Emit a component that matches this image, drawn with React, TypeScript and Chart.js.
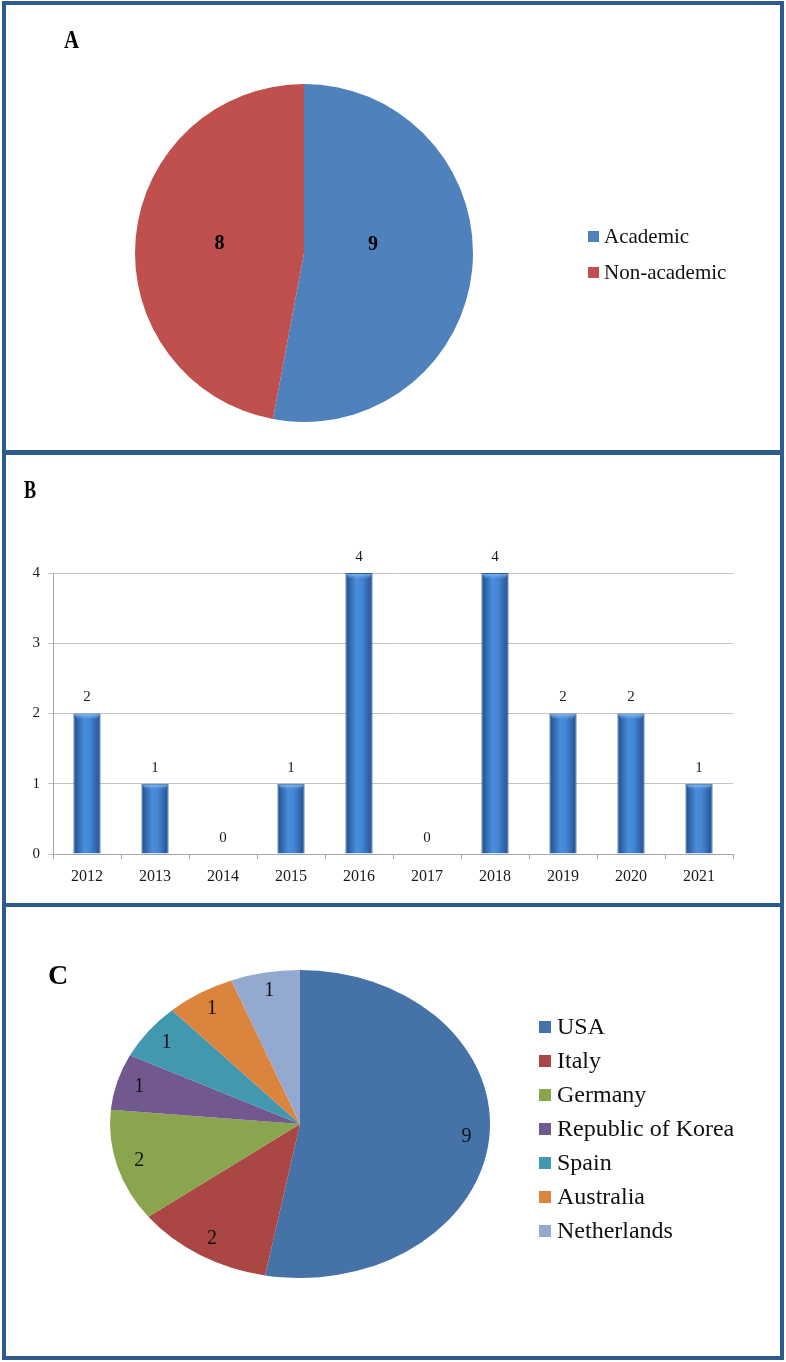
import React, { useEffect, useRef } from "react";
import { Chart, registerables } from "chart.js";

Chart.register(...registerables);

const FONT = '"Liberation Serif", "Times New Roman", serif';

// Panel A – affiliation
const affiliationLabels = ["Academic", "Non-academic"];
const affiliationValues = [9, 8];
const affiliationColors = ["#4F81BD", "#C0504D"];

// Panel B – publications per year
const years = ["2012", "2013", "2014", "2015", "2016", "2017", "2018", "2019", "2020", "2021"];
const yearCounts = [2, 1, 0, 1, 4, 0, 4, 2, 2, 1];
const yAxisMin = 0;
const yAxisMax = 4;
const yAxisStep = 1;

// Panel C – countries
const countries = ["USA", "Italy", "Germany", "Republic of Korea", "Spain", "Australia", "Netherlands"];
const countryCounts = [9, 2, 2, 1, 1, 1, 1];
const countryColors = ["#4572A7", "#AA4643", "#89A54E", "#71588F", "#4198AF", "#DB843D", "#93A9CF"];

type LegendCfg = { x: number; textX: number; y0: number; dy: number; box: number; font: string };

function legendPlugin(cfg: LegendCfg) {
  return {
    id: "customLegend",
    afterDraw(chart: any) {
      const ctx = chart.ctx;
      const labels = chart.data.labels as string[];
      const colors = chart.data.datasets[0].backgroundColor as string[];
      ctx.save();
      ctx.font = cfg.font;
      ctx.textBaseline = "middle";
      ctx.textAlign = "left";
      labels.forEach((l, i) => {
        const y = cfg.y0 + i * cfg.dy;
        ctx.fillStyle = colors[i];
        ctx.fillRect(cfg.x, Math.round(y - cfg.box / 2), cfg.box, cfg.box);
        ctx.fillStyle = "#111";
        ctx.fillText(l, cfg.textX, y + 1);
      });
      ctx.restore();
    },
  };
}

// Labels at the centre of each slice's bounding box (panel A)
const pieBoxLabels = {
  id: "pieBoxLabels",
  afterDatasetsDraw(chart: any) {
    const ctx = chart.ctx;
    const meta = chart.getDatasetMeta(0);
    const data = chart.data.datasets[0].data as number[];
    ctx.save();
    ctx.font = `bold 20px ${FONT}`;
    ctx.fillStyle = "#000";
    ctx.textAlign = "center";
    ctx.textBaseline = "middle";
    meta.data.forEach((arc: any, i: number) => {
      const { x, y, startAngle, endAngle, outerRadius } = arc.getProps(
        ["x", "y", "startAngle", "endAngle", "outerRadius"],
        true
      );
      const pts: number[][] = [
        [x, y],
        [x + outerRadius * Math.cos(startAngle), y + outerRadius * Math.sin(startAngle)],
        [x + outerRadius * Math.cos(endAngle), y + outerRadius * Math.sin(endAngle)],
      ];
      for (let k = -4; k <= 8; k++) {
        const a = (k * Math.PI) / 2;
        if (a > startAngle && a < endAngle) pts.push([x + outerRadius * Math.cos(a), y + outerRadius * Math.sin(a)]);
      }
      const xs = pts.map((p) => p[0]);
      const ys = pts.map((p) => p[1]);
      const lx = (Math.min(...xs) + Math.max(...xs)) / 2;
      const ly = (Math.min(...ys) + Math.max(...ys)) / 2 - 8;
      ctx.fillText(String(data[i]), lx, ly);
    });
    ctx.restore();
  },
};

// Panel C: stretch the pie horizontally into an ellipse and label near the rim
const ELLIPSE_SX = 190 / 154;
const ellipsePie = {
  id: "ellipsePie",
  beforeDatasetsDraw(chart: any) {
    const arc = chart.getDatasetMeta(0).data[0];
    const ctx = chart.ctx;
    ctx.save();
    ctx.translate(arc.x, arc.y);
    ctx.scale(ELLIPSE_SX, 1);
    ctx.translate(-arc.x, -arc.y);
  },
  afterDatasetsDraw(chart: any) {
    const ctx = chart.ctx;
    ctx.restore();
    const meta = chart.getDatasetMeta(0);
    const data = chart.data.datasets[0].data as number[];
    ctx.save();
    ctx.font = `20px ${FONT}`;
    ctx.fillStyle = "#111";
    ctx.textAlign = "center";
    ctx.textBaseline = "middle";
    meta.data.forEach((arc: any, i: number) => {
      const { x, y, startAngle, endAngle, outerRadius } = arc.getProps(
        ["x", "y", "startAngle", "endAngle", "outerRadius"],
        true
      );
      const mid = (startAngle + endAngle) / 2;
      const f = 0.88;
      ctx.fillText(
        String(data[i]),
        x + ELLIPSE_SX * f * outerRadius * Math.cos(mid),
        y + f * outerRadius * Math.sin(mid)
      );
    });
    ctx.restore();
  },
};

// Panel B: value labels and top highlight on the bars
const barExtras = {
  id: "barExtras",
  afterDatasetsDraw(chart: any) {
    const ctx = chart.ctx;
    const meta = chart.getDatasetMeta(0);
    const data = chart.data.datasets[0].data as number[];
    ctx.save();
    meta.data.forEach((bar: any, i: number) => {
      const { x, y, base, width } = bar.getProps(["x", "y", "base", "width"], true);
      if (base - y > 6) {
        const g = ctx.createLinearGradient(0, y, 0, y + 6);
        g.addColorStop(0, "rgba(150,200,250,0.95)");
        g.addColorStop(1, "rgba(110,170,235,0)");
        ctx.fillStyle = g;
        ctx.beginPath();
        ctx.moveTo(x - width / 2 + 1, y + 1);
        ctx.lineTo(x + width / 2 - 1, y + 1);
        ctx.lineTo(x + width / 2 - 4, y + 6);
        ctx.lineTo(x - width / 2 + 4, y + 6);
        ctx.closePath();
        ctx.fill();
      }
      ctx.font = `15px ${FONT}`;
      ctx.fillStyle = "#1a1a1a";
      ctx.textAlign = "center";
      ctx.textBaseline = "middle";
      ctx.fillText(String(data[i]), x, y - 16);
    });
    ctx.restore();
  },
};

function barFill(c: any) {
  const chart = c.chart;
  const xs = chart && chart.scales && chart.scales.x;
  if (!xs || c.dataIndex === undefined) return "#3E78C6";
  const cx = xs.getPixelForValue(c.dataIndex);
  if (!Number.isFinite(cx)) return "#3E78C6";
  const half = 14;
  const g = chart.ctx.createLinearGradient(cx - half, 0, cx + half, 0);
  g.addColorStop(0, "#1E4A84");
  g.addColorStop(0.4, "#4A8DDC");
  g.addColorStop(0.6, "#4686D4");
  g.addColorStop(1, "#214F8D");
  return g;
}

function ChartCanvas(props: { left: number; top: number; width: number; height: number; build: () => any }) {
  const ref = useRef<HTMLCanvasElement>(null);
  useEffect(() => {
    const chart = new Chart(ref.current as HTMLCanvasElement, props.build());
    return () => chart.destroy();
  }, []);
  return (
    <canvas
      ref={ref}
      width={props.width}
      height={props.height}
      style={{ position: "absolute", left: props.left, top: props.top, width: props.width, height: props.height }}
    />
  );
}

const buildA = () => ({
  type: "pie",
  data: {
    labels: affiliationLabels,
    datasets: [{ data: affiliationValues, backgroundColor: affiliationColors, borderWidth: 0 }],
  },
  options: {
    animation: false,
    responsive: false,
    layout: { padding: { left: 135, right: 313, top: 84, bottom: 28 } },
    plugins: { legend: { display: false }, tooltip: { enabled: false } },
  },
  plugins: [pieBoxLabels, legendPlugin({ x: 588, textX: 604, y0: 236, dy: 36, box: 11, font: `21px ${FONT}` })],
});

const buildB = () => ({
  type: "bar",
  data: {
    labels: years,
    datasets: [
      {
        data: yearCounts,
        categoryPercentage: 1,
        barPercentage: 0.4,
        borderWidth: 1,
        borderColor: "#2A5A96",
        backgroundColor: barFill,
      },
    ],
  },
  options: {
    animation: false,
    responsive: false,
    layout: { padding: { left: 0, right: 53, top: 118, bottom: 0 } },
    plugins: { legend: { display: false }, tooltip: { enabled: false } },
    scales: {
      x: {
        grid: { display: true, drawOnChartArea: false, drawTicks: true, tickLength: 5, color: "#A6A6A6", offset: true },
        border: { color: "#A6A6A6", width: 1 },
        ticks: { font: { family: FONT, size: 16 }, color: "#1a1a1a", padding: 8, maxRotation: 0 },
        afterFit(s: any) {
          s.height = 49;
        },
      },
      y: {
        min: yAxisMin,
        max: yAxisMax,
        ticks: { stepSize: yAxisStep, font: { family: FONT, size: 15 }, color: "#1a1a1a", padding: 8 },
        grid: { color: "#C4C4C4", tickLength: 5 },
        border: { color: "#A6A6A6", width: 1 },
        afterFit(s: any) {
          s.width = 53;
        },
      },
    },
  },
  plugins: [barExtras],
});

const buildC = () => ({
  type: "pie",
  data: {
    labels: countries,
    datasets: [{ data: countryCounts, backgroundColor: countryColors, borderWidth: 0, clip: false }],
  },
  options: {
    animation: false,
    responsive: false,
    layout: { padding: { left: 146, right: 332, top: 63, bottom: 75 } },
    plugins: { legend: { display: false }, tooltip: { enabled: false } },
  },
  plugins: [ellipsePie, legendPlugin({ x: 539, textX: 557, y0: 120, dy: 34, box: 12, font: `24px ${FONT}` })],
});

const FRAME = "#2F5A8C";

function PanelLabel(props: { text: string; left: number; top: number; size: number; sx: number }) {
  return (
    <div
      style={{
        position: "absolute",
        left: props.left,
        top: props.top,
        fontFamily: FONT,
        fontWeight: "bold",
        fontSize: props.size,
        lineHeight: `${props.size}px`,
        color: "#000",
        transform: `scaleX(${props.sx})`,
        transformOrigin: "left top",
        whiteSpace: "nowrap",
      }}
    >
      {props.text}
    </div>
  );
}

export default function App() {
  return (
    <div
      style={{
        position: "absolute",
        left: 0,
        top: 0,
        width: 786,
        height: 1362,
        background: "#fff",
        overflow: "hidden",
      }}
    >
      <ChartCanvas left={0} top={0} width={786} height={450} build={buildA} />
      <ChartCanvas left={0} top={455} width={786} height={448} build={buildB} />
      <ChartCanvas left={0} top={907} width={786} height={446} build={buildC} />

      <div
        style={{
          position: "absolute",
          left: 2,
          top: 1,
          width: 782,
          height: 1359,
          boxSizing: "border-box",
          border: `4px solid ${FRAME}`,
          pointerEvents: "none",
        }}
      />
      <div style={{ position: "absolute", left: 2, top: 450, width: 782, height: 5, background: FRAME }} />
      <div style={{ position: "absolute", left: 2, top: 903, width: 782, height: 4, background: FRAME }} />

      <PanelLabel text="A" left={64} top={27} size={26} sx={0.8} />
      <PanelLabel text="B" left={24} top={477} size={26} sx={0.7} />
      <PanelLabel text="C" left={48} top={961} size={28} sx={1} />
    </div>
  );
}
